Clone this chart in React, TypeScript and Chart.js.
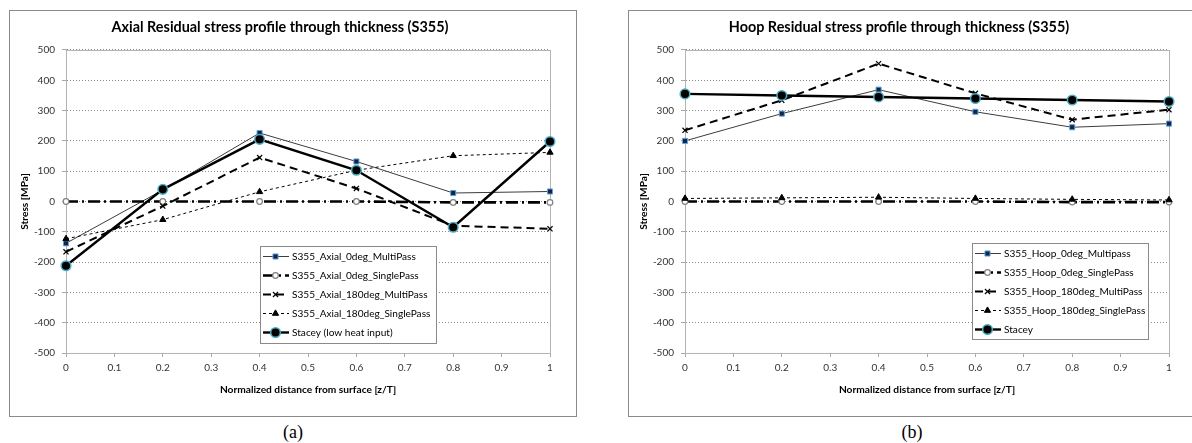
import React, { useEffect, useRef } from "react";
import { Chart, registerables } from "chart.js";

Chart.register(...registerables);

// ---------------- data ----------------
const xPositions = [0, 0.2, 0.4, 0.6, 0.8, 1];

const axialLabels = [
  "S355_Axial_0deg_MultiPass",
  "S355_Axial_0deg_SinglePass",
  "S355_Axial_180deg_MultiPass",
  "S355_Axial_180deg_SinglePass",
  "Stacey (low heat input)",
];
const axialMulti0 = [-138, 38, 226, 132, 28, 33];
const axialSingle0 = [0, 0, 0, 0, -3, -3];
const axialMulti180 = [-166, -15, 145, 43, -80, -90];
const axialSingle180 = [-123, -60, 32, 103, 151, 162];
const axialStacey = [-212, 40, 205, 103, -85, 198];

const hoopLabels = [
  "S355_Hoop_0deg_Multipass",
  "S355_Hoop_0deg_SinglePass",
  "S355_Hoop_180deg_MultiPass",
  "S355_Hoop_180deg_SinglePass",
  "Stacey",
];
const hoopMulti0 = [200, 290, 369, 296, 245, 257];
const hoopSingle0 = [0, 0, 0, 0, -2, -2];
const hoopMulti180 = [235, 334, 455, 357, 270, 303];
const hoopSingle180 = [10, 12, 14, 10, 7, 5];
const hoopStacey = [355, 350, 345, 340, 335, 330];

const axialTitle = "Axial Residual stress profile through thickness (S355)";
const hoopTitle = "Hoop Residual stress profile through thickness (S355)";
const xAxisTitle = "Normalized distance from surface [z/T]";
const yAxisTitle = "Stress [MPa]";
const xMin = 0;
const xMax = 1;
const xStep = 0.1;
const yMin = -500;
const yMax = 500;
const yStep = 100;

// ---------------- styles ----------------
type PointKind = "rect" | "circle" | "crossRot" | "triangle";
type SeriesStyle = {
  color: string;
  width: number;
  dash: number[];
  point: PointKind;
  radius: number;
  pointFill: string;
  pointBorder: string;
  pointBorderWidth: number;
};

const seriesStyles: SeriesStyle[] = [
  { color: "#3c3c3c", width: 1, dash: [], point: "rect", radius: 3.6, pointFill: "#13234a", pointBorder: "#5fa3d9", pointBorderWidth: 1 },
  { color: "#000000", width: 2.6, dash: [12, 4, 2, 4], point: "circle", radius: 2.8, pointFill: "#ffffff", pointBorder: "#7f7f7f", pointBorderWidth: 1.2 },
  { color: "#000000", width: 2, dash: [8, 5], point: "crossRot", radius: 3.6, pointFill: "#000000", pointBorder: "#000000", pointBorderWidth: 1.2 },
  { color: "#000000", width: 1, dash: [3, 3], point: "triangle", radius: 3.6, pointFill: "#000000", pointBorder: "#000000", pointBorderWidth: 1 },
  { color: "#000000", width: 2.4, dash: [], point: "circle", radius: 4.8, pointFill: "#000000", pointBorder: "#4bacc6", pointBorderWidth: 1.5 },
];

const FONT = "Lato, 'Open Sans', sans-serif";
const CANVAS_W = 566;
const CANVAS_H = 405;

type LegendBox = { x: number; y: number; w: number; h: number };

function drawMarker(ctx: CanvasRenderingContext2D, s: SeriesStyle, x: number, y: number) {
  const r = s.radius;
  ctx.save();
  ctx.setLineDash([]);
  ctx.lineWidth = s.pointBorderWidth;
  ctx.strokeStyle = s.pointBorder;
  ctx.fillStyle = s.pointFill;
  ctx.beginPath();
  if (s.point === "rect") {
    const h = r * Math.SQRT1_2;
    ctx.rect(x - h, y - h, 2 * h, 2 * h);
    ctx.fill();
    ctx.stroke();
  } else if (s.point === "circle") {
    ctx.arc(x, y, r, 0, Math.PI * 2);
    ctx.fill();
    ctx.stroke();
  } else if (s.point === "crossRot") {
    const d = r * Math.SQRT1_2;
    ctx.moveTo(x - d, y - d);
    ctx.lineTo(x + d, y + d);
    ctx.moveTo(x - d, y + d);
    ctx.lineTo(x + d, y - d);
    ctx.stroke();
  } else {
    let a = 0;
    ctx.moveTo(x + Math.sin(a) * r, y - Math.cos(a) * r);
    a += (2 * Math.PI) / 3;
    ctx.lineTo(x + Math.sin(a) * r, y - Math.cos(a) * r);
    a += (2 * Math.PI) / 3;
    ctx.lineTo(x + Math.sin(a) * r, y - Math.cos(a) * r);
    ctx.closePath();
    ctx.fill();
    ctx.stroke();
  }
  ctx.restore();
}

function makeFramePlugin(labels: string[], box: LegendBox) {
  return {
    id: "frameAndLegend",
    beforeDatasetsDraw(chart: any) {
      const { ctx, chartArea } = chart;
      ctx.save();
      ctx.strokeStyle = "#b4b4b4";
      ctx.lineWidth = 1;
      ctx.setLineDash([]);
      ctx.strokeRect(
        Math.round(chartArea.left) + 0.5,
        Math.round(chartArea.top) + 0.5,
        Math.round(chartArea.right - chartArea.left),
        Math.round(chartArea.bottom - chartArea.top)
      );
      ctx.restore();
    },
    afterDatasetsDraw(chart: any) {
      const ctx: CanvasRenderingContext2D = chart.ctx;
      ctx.save();
      ctx.fillStyle = "#ffffff";
      ctx.fillRect(box.x, box.y, box.w, box.h);
      ctx.strokeStyle = "#8a8a8a";
      ctx.lineWidth = 1;
      ctx.strokeRect(box.x + 0.5, box.y + 0.5, box.w, box.h);
      ctx.font = `10.1px ${FONT}`;
      ctx.textBaseline = "middle";
      ctx.textAlign = "left";
      labels.forEach((label, i) => {
        const s = seriesStyles[i];
        const cy = box.y + 10.5 + i * 19;
        ctx.save();
        ctx.strokeStyle = s.color;
        ctx.lineWidth = s.width;
        ctx.setLineDash(s.dash);
        ctx.beginPath();
        ctx.moveTo(box.x + 3, cy);
        ctx.lineTo(box.x + 29, cy);
        ctx.stroke();
        ctx.restore();
        drawMarker(ctx, s, box.x + 15.5, cy);
        ctx.fillStyle = "#000000";
        ctx.fillText(label, box.x + 32, cy);
      });
      ctx.restore();
    },
  };
}

type ChartProps = {
  title: string;
  labels: string[];
  series: number[][];
  legend: LegendBox;
};

function StressChart({ title, labels, series, legend }: ChartProps) {
  const ref = useRef<HTMLCanvasElement>(null);
  useEffect(() => {
    const canvas = ref.current;
    if (!canvas) return;
    const datasets = series.map((vals, i) => {
      const s = seriesStyles[i];
      return {
        label: labels[i],
        data: xPositions.map((x, j) => ({ x, y: vals[j] })),
        borderColor: s.color,
        borderWidth: s.width,
        borderDash: s.dash,
        pointStyle: s.point,
        pointRadius: s.radius,
        pointBackgroundColor: s.pointFill,
        pointBorderColor: s.pointBorder,
        pointBorderWidth: s.pointBorderWidth,
        tension: 0,
        fill: false,
        clip: false as any,
        order: series.length - 1 - i,
      };
    });
    const tickFont = { family: FONT, size: 10 };
    const axisTitleFont = { family: FONT, size: 10.2, weight: "bold" as const };
    const chart = new Chart(canvas, {
      type: "line",
      data: { datasets },
      plugins: [makeFramePlugin(labels, legend)],
      options: {
        animation: false,
        responsive: false,
        devicePixelRatio: 1,
        layout: { padding: { left: 0, right: 26, top: 0, bottom: 0 } },
        plugins: {
          legend: { display: false },
          tooltip: { enabled: false },
          title: {
            display: true,
            text: title,
            color: "#000000",
            font: { family: FONT, size: 14.4, weight: "bold" },
            padding: { top: 8, bottom: 13.7 },
          },
        },
        scales: {
          x: {
            type: "linear",
            min: xMin,
            max: xMax,
            ticks: {
              stepSize: xStep,
              color: "#333333",
              font: tickFont,
              padding: 5,
              maxRotation: 0,
              autoSkip: false,
              callback: (v: any) => String(Number(Number(v).toFixed(1))),
            },
            grid: { drawOnChartArea: false, drawTicks: true, tickLength: 4, color: "#a8a8a8" },
            border: { color: "#a8a8a8" },
            title: {
              display: true,
              text: xAxisTitle,
              color: "#000000",
              font: axisTitleFont,
              padding: { top: 4, bottom: 20 },
            },
            afterFit: (scale: any) => {
              scale.height = 63;
            },
          },
          y: {
            type: "linear",
            min: yMin,
            max: yMax,
            ticks: {
              stepSize: yStep,
              color: "#333333",
              font: tickFont,
              padding: 7,
              callback: (v: any) => String(v),
            },
            grid: {
              color: "#8c8c8c",
              tickLength: 4,
              tickColor: "#a8a8a8",
              tickBorderDash: [],
            },
            border: { color: "#a8a8a8", dash: [1, 2] },
            title: {
              display: true,
              text: yAxisTitle,
              color: "#000000",
              font: axisTitleFont,
              padding: { top: 9, bottom: 4 },
            },
            afterFit: (scale: any) => {
              scale.width = 56;
            },
          },
        },
      } as any,
    });
    return () => chart.destroy();
  }, [title, labels, series, legend]);
  return (
    <canvas
      ref={ref}
      width={CANVAS_W}
      height={CANVAS_H}
      style={{ display: "block", width: CANVAS_W, height: CANVAS_H }}
    />
  );
}

const axialSeries = [axialMulti0, axialSingle0, axialMulti180, axialSingle180, axialStacey];
const hoopSeries = [hoopMulti0, hoopSingle0, hoopMulti180, hoopSingle180, hoopStacey];
const axialLegend: LegendBox = { x: 250, y: 235, w: 176, h: 97 };
const hoopLegend: LegendBox = { x: 343, y: 232, w: 176, h: 96 };

const boxStyle = (left: number): React.CSSProperties => ({
  position: "absolute",
  left,
  top: 10,
  width: CANVAS_W,
  height: CANVAS_H,
  border: "1px solid #8a8a8a",
  background: "#ffffff",
});

const captionStyle = (left: number): React.CSSProperties => ({
  position: "absolute",
  left,
  top: 423,
  width: CANVAS_W + 2,
  textAlign: "center",
  fontFamily: "'Liberation Serif', 'Times New Roman', serif",
  fontSize: 18,
  lineHeight: "18px",
  color: "#000000",
});

export default function App() {
  return (
    <div
      style={{
        position: "fixed",
        left: 0,
        top: 0,
        width: 1192,
        height: 443,
        background: "#ffffff",
        overflow: "hidden",
      }}
    >
      <div style={boxStyle(9)}>
        <StressChart title={axialTitle} labels={axialLabels} series={axialSeries} legend={axialLegend} />
      </div>
      <div style={boxStyle(628)}>
        <StressChart title={hoopTitle} labels={hoopLabels} series={hoopSeries} legend={hoopLegend} />
      </div>
      <div style={captionStyle(9)}>(a)</div>
      <div style={captionStyle(628)}>(b)</div>
    </div>
  );
}
